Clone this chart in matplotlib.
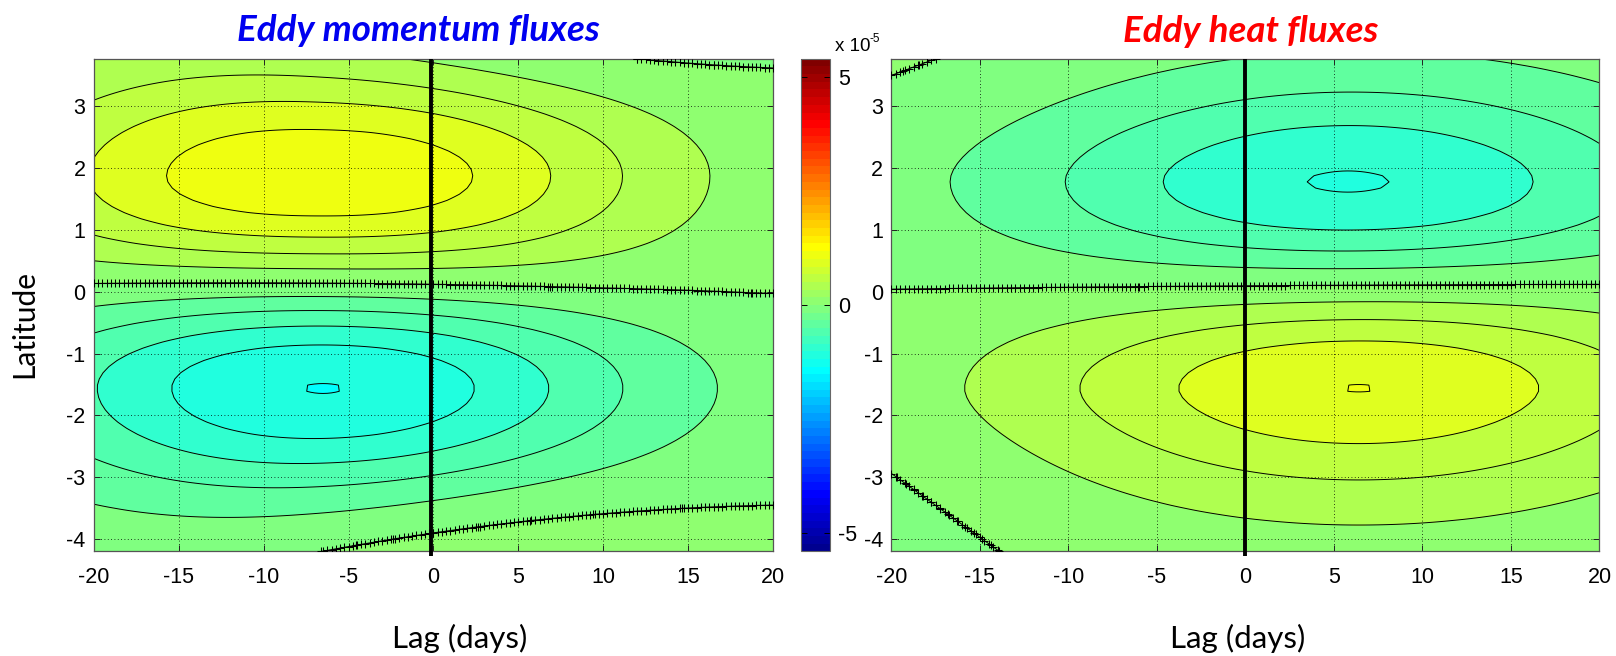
import numpy as np
import matplotlib
matplotlib.use("Agg")
import matplotlib.pyplot as plt
from matplotlib.colors import ListedColormap, Normalize
from matplotlib.cm import ScalarMappable

plt.rcParams["axes.unicode_minus"] = False

# ---------------------------------------------------------------------------
# Composite axes
lag_days = np.arange(-20.0, 20.001, 0.25)
latitude = np.linspace(-4.2, 3.77, 81)

# contour levels, in units of 1e-5
levels = [-1.5, -1.25, -1.0, -0.75, -0.5, -0.25, 0.0, 0.25, 0.5, 0.75, 1.0, 1.25, 1.5]
clim = 5.4

x_ticks = [-20, -15, -10, -5, 0, 5, 10, 15, 20]
y_ticks = [-4, -3, -2, -1, 0, 1, 2, 3]
cbar_ticks = [-5, 0, 5]

# Each panel has a northern and a southern lobe: [north, south]
# Eddy momentum fluxes
mom_amp = [1.20, -1.254]          # peak value (1e-5)
mom_lag_c = [-6.7, -6.5]          # lag of peak (days)
mom_lag_w = [18.9, 18.4]          # lag e-folding half width (days)
mom_lag_pow = [2.3, 2.05]
mom_lat_c = [1.87, -1.56]         # latitude of peak
mom_out_w = [1.9, 1.85]           # poleward decay width
mom_out_pow = [2.0, 2.0]
mom_eq_lag = [-20.0, 0.0, 20.0]   # equatorial zero line
mom_eq_lat = [0.135, 0.12, -0.03]
mom_edge_lag = [[-6.7, 12.0, 20.0], [-6.6, 0.0, 20.0]]   # poleward zero lines
mom_edge_lat = [[4.6, 3.77, 3.62], [-4.2, -3.9, -3.45]]

# Eddy heat fluxes
heat_amp = [-1.015, 1.0025]
heat_lag_c = [5.8, 6.4]
heat_lag_w = [19.0, 18.9]
heat_lag_pow = [2.0, 2.0]
heat_lat_c = [1.79, -1.57]
heat_out_w = [1.75, 1.82]
heat_out_pow = [1.8, 1.72]
heat_eq_lag = [-20.0, 0.0, 20.0]
heat_eq_lat = [0.043, 0.097, 0.12]
heat_edge_lag = [[-20.0, -17.5], [-20.0, -13.9]]
heat_edge_lat = [[3.5, 3.77], [-2.94, -4.2]]

ref_lag = [-0.15, 0.0]   # day-0 marker in each panel


def matlab_jet(m=64):
    n = int(np.ceil(m / 4))
    u = np.concatenate([np.arange(1, n + 1) / n, np.ones(n - 1), np.arange(n, 0, -1) / n])
    g = int(np.ceil(n / 2)) - (1 if m % 4 == 1 else 0) + np.arange(1, len(u) + 1)
    table = np.zeros((m, 3))
    for col, idx in ((0, g + n), (1, g), (2, g - n)):
        ok = (idx >= 1) & (idx <= m)
        table[idx[ok] - 1, col] = u[ok]
    return ListedColormap(table)


def composite(amp, xc, sx, px, yc, sy, qy, eq_lag, eq_lat, edge_lag, edge_lat):
    X, Y = np.meshgrid(lag_days, latitude)
    y0 = np.polyval(np.polyfit(eq_lag, eq_lat, len(eq_lag) - 1), X)
    F = np.zeros_like(X)
    for k in range(2):
        G = np.exp(-np.abs((X - xc[k]) / sx[k]) ** px[k])
        ye = np.polyval(np.polyfit(edge_lag[k], edge_lat[k], len(edge_lag[k]) - 1), X)
        W = np.abs(ye - yc[k])
        gW = np.exp(-(W / sy[k]) ** qy[k])
        c = gW / (1.0 - gW)
        dy = np.abs(Y - yc[k])
        outer = (1.0 + c) * np.exp(-(dy / sy[k]) ** qy[k]) - c
        inner = np.cos(0.5 * np.pi * np.clip(dy / np.abs(yc[k] - y0), 0, 1))
        if k == 0:
            S = np.where(Y > yc[k], outer, inner)
            half = Y >= y0
        else:
            S = np.where(Y < yc[k], outer, inner)
            half = Y < y0
        F += np.where(half, amp[k] * G * S, 0.0)
    return X, Y, F


panels = [
    composite(mom_amp, mom_lag_c, mom_lag_w, mom_lag_pow, mom_lat_c, mom_out_w,
              mom_out_pow, mom_eq_lag, mom_eq_lat, mom_edge_lag, mom_edge_lat),
    composite(heat_amp, heat_lag_c, heat_lag_w, heat_lag_pow, heat_lat_c, heat_out_w,
              heat_out_pow, heat_eq_lag, heat_eq_lat, heat_edge_lag, heat_edge_lat),
]

# ---------------------------------------------------------------------------
W_PX, H_PX = 1616, 656
fig = plt.figure(figsize=(W_PX / 100, H_PX / 100), dpi=100)
fig.patch.set_facecolor("white")


def rect(x0, y0, x1, y1):
    return [x0 / W_PX, 1 - y1 / H_PX, (x1 - x0) / W_PX, (y1 - y0) / H_PX]


tick_font = ["Liberation Sans Narrow", "Liberation Sans", "DejaVu Sans"]
label_font = ["Lato", "Open Sans", "DejaVu Sans"]

cmap = matlab_jet(64)
norm = Normalize(vmin=-clim, vmax=clim)

ax_boxes = [rect(93.8, 58.7, 773.0, 551.4), rect(891.5, 58.7, 1599.5, 551.4)]
axes = []
for i, (X, Y, F) in enumerate(panels):
    ax = fig.add_axes(ax_boxes[i])
    axes.append(ax)
    ax.contourf(X, Y, F, levels=levels, cmap=cmap, norm=norm, zorder=1)
    ax.contour(X, Y, F, levels=[l for l in levels if l != 0.0], colors="k",
               linewidths=0.7, linestyles="solid", zorder=2)
    zc = ax.contour(X, Y, F, levels=[0.0], colors="k", linewidths=0.7,
                    linestyles="solid", zorder=2)
    for seg in zc.allsegs[0]:
        ax.plot(seg[:, 0], seg[:, 1], ls="none", marker="+", ms=5.5, mew=0.75,
                color="k", zorder=3)
    ax.plot([ref_lag[i], ref_lag[i]], [-4.27, 3.77], color="k", lw=2.8,
            clip_on=False, zorder=4, solid_capstyle="butt")
    ax.set_xlim(-20, 20)
    ax.set_ylim(-4.2, 3.77)
    ax.set_xticks(x_ticks)
    ax.set_yticks(y_ticks)
    ax.grid(True, linestyle=(0, (1, 3)), color="k", linewidth=0.6)
    ax.tick_params(direction="in", length=4, width=0.7, top=True, right=True,
                   labelsize=15.5, color="#222222")
    ax.tick_params(axis="x", pad=11)
    ax.tick_params(axis="y", pad=6)
    for lab in ax.get_xticklabels() + ax.get_yticklabels():
        lab.set_fontfamily(tick_font)
    for sp in ax.spines.values():
        sp.set_color("#555555")
        sp.set_linewidth(0.9)

# colour bar
cax = fig.add_axes(rect(800.8, 58.7, 829.6, 551.4))
cb = fig.colorbar(ScalarMappable(norm=norm, cmap=cmap), cax=cax, ticks=cbar_ticks)
cb.outline.set_edgecolor("#666666")
cb.outline.set_linewidth(0.8)
cax.tick_params(direction="in", length=4, width=0.7, left=True, right=True,
                labelsize=15.5, pad=6)
cax.set_yticklabels([str(t) for t in cbar_ticks])
for lab in cax.get_yticklabels():
    lab.set_fontfamily(tick_font)
fig.text(835 / W_PX, 1 - 51 / H_PX, "x 10", ha="left", va="baseline",
         fontsize=13.5, family=tick_font)
fig.text(869 / W_PX, 1 - 42 / H_PX, "-5", ha="left", va="baseline",
         fontsize=8.5, family=tick_font)

# titles and axis labels
fig.text(418 / W_PX, 1 - 41 / H_PX, "Eddy momentum fluxes", ha="center",
         va="baseline", fontsize=26.5, fontweight="bold", fontstyle="italic",
         color="#0000F0", family=label_font)
fig.text(1251 / W_PX, 1 - 42 / H_PX, "Eddy heat fluxes", ha="center",
         va="baseline", fontsize=26.5, fontweight="bold", fontstyle="italic",
         color="#FF0000", family=label_font)
fig.text(24.5 / W_PX, 1 - 323.5 / H_PX, "Latitude", rotation=90, ha="center",
         va="center", fontsize=21.5, family=label_font)
fig.text(460 / W_PX, 1 - 648 / H_PX, "Lag (days)", ha="center", va="baseline",
         fontsize=22.5, family=label_font)
fig.text(1238 / W_PX, 1 - 648 / H_PX, "Lag (days)", ha="center", va="baseline",
         fontsize=22.5, family=label_font)

fig.savefig("out.png", dpi=100)
